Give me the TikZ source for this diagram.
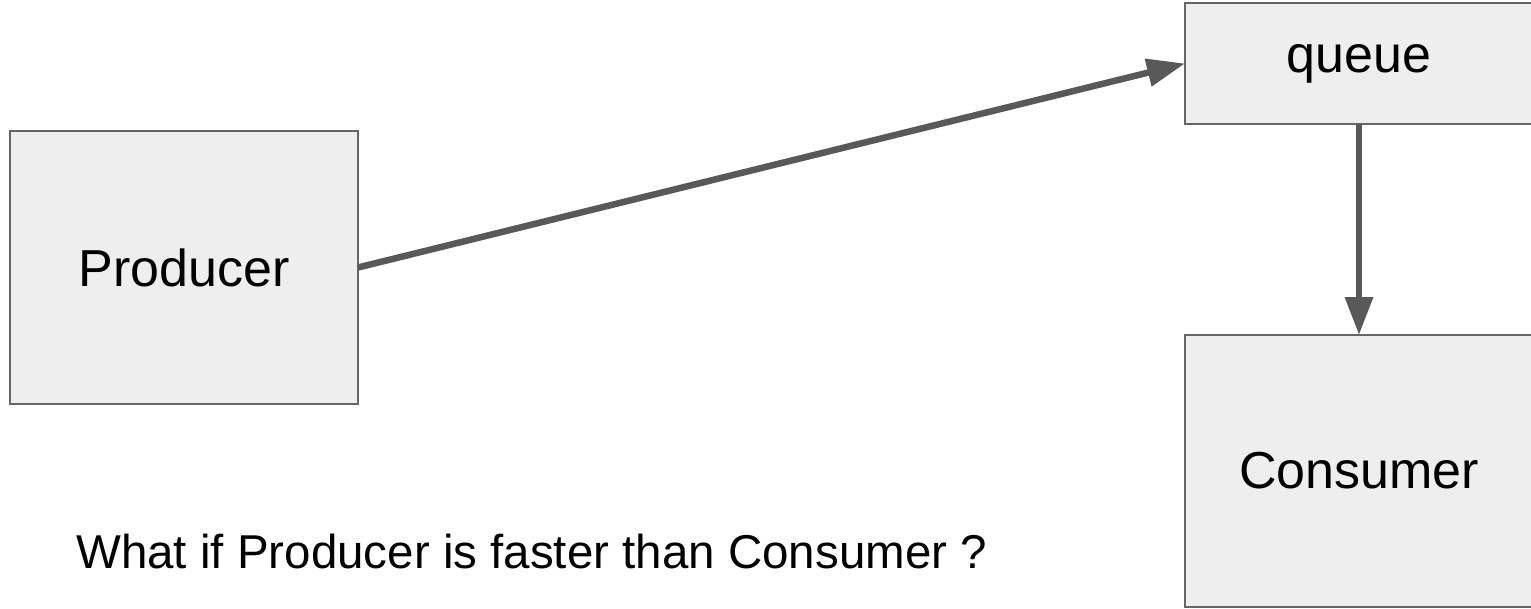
\documentclass[tikz,border=0pt]{standalone}
\usepackage{fontspec}
\setmainfont{Liberation Sans}
\usetikzlibrary{arrows.meta}
\definecolor{boxfill}{HTML}{EEEEEE}
\definecolor{boxline}{HTML}{666666}
\definecolor{arrowcol}{HTML}{595959}
\tikzset{
  blk/.style={draw=boxline, fill=boxfill, line width=2pt, inner sep=0pt, outer sep=0pt,
    font=\fontsize{52}{60}\selectfont, text=black},
  conn/.style={draw=arrowcol, line width=6.5pt,
    -{Triangle[width=27pt,length=38pt]}},
}
\begin{document}
\begin{tikzpicture}[x=1pt,y=-1pt]
\useasboundingbox (0,0) rectangle (1531,608);
\node[blk, minimum width=348pt, minimum height=273pt] (prod) at (184,267.5) {Producer};
\node[blk, minimum width=348pt, minimum height=121pt] (queue) at (1359,63.5) {queue};
\node[blk, minimum width=348pt, minimum height=272pt] (cons) at (1359,471) {Consumer};
\node[anchor=base west, inner sep=0pt, font=\fontsize{47.5}{56}\selectfont] (q) at (76,568) {What if Producer is faster than Consumer ?};
\draw[conn] (prod.east) -- (queue.west);
\draw[conn] (queue.south) -- (cons.north);
\end{tikzpicture}
\end{document}
